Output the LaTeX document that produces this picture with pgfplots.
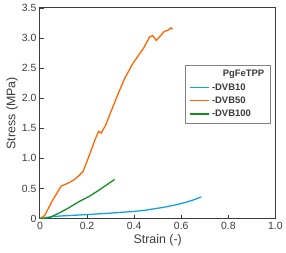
\documentclass[border=0pt]{standalone}
\usepackage{pgfplots}
\pgfplotsset{compat=1.18}
\usepackage{fontspec}
\setmainfont{Liberation Sans}
\definecolor{cblue}{RGB}{20,160,230}
\definecolor{corange}{RGB}{255,102,0}
\definecolor{cgreen}{RGB}{20,140,30}
\definecolor{axgray}{RGB}{60,60,60}
\begin{document}
\begin{tikzpicture}
\begin{axis}[
  scale only axis,
  width=236bp, height=211bp,
  xmin=0, xmax=1, ymin=0, ymax=3.5,
  xtick={0,0.2,0.4,0.6,0.8,1.0},
  xticklabels={0,0.2,0.4,0.6,0.8,1.0},
  ytick={0,0.5,1,1.5,2,2.5,3,3.5},
  yticklabels={0,0.5,1.0,1.5,2.0,2.5,3.0,3.5},
  tick align=inside,
  xtick pos=bottom, ytick pos=left,
  major tick length=4bp,
  axis line style={axgray, line width=1pt},
  every tick/.style={axgray, line width=0.9pt},
  tick label style={font=\fontsize{10.5}{12}\selectfont, text=axgray},
  label style={font=\fontsize{12.5}{13}\selectfont, text=axgray},
  xlabel={Strain (-)},
  ylabel={Stress (MPa)},
  xlabel style={yshift=2bp},
  ylabel style={yshift=-3bp},
  legend style={at={(0.98,0.73)}, anchor=north east, draw=gray, line width=1pt,
    font=\fontsize{9.5}{12}\selectfont\bfseries, text=axgray, row sep=1.2pt,
    inner xsep=4bp, inner ysep=3bp},
  legend cell align=left,
  legend image code/.code={\draw[#1, line width=1.3pt] (0cm,0cm) -- (19bp,0cm);},
  every axis plot/.append style={line width=1.3pt},
]
\addlegendimage{empty legend}
\addlegendentry{\hspace{0.38cm}PgFeTPP}
\addplot[cblue] coordinates {
(0,0) (0.03,0.02) (0.06,0.035) (0.1,0.045) (0.15,0.055) (0.2,0.066) (0.25,0.078) (0.3,0.09) (0.35,0.105) (0.4,0.118) (0.45,0.14) (0.49,0.165) (0.53,0.19) (0.58,0.23) (0.62,0.27) (0.66,0.32) (0.685,0.36)
};
\addlegendentry{-DVB10}
\addplot[corange] coordinates {
(0,0) (0.02,0.05) (0.04,0.2) (0.055,0.31) (0.075,0.44) (0.09,0.54) (0.112,0.575) (0.13,0.61) (0.147,0.65) (0.165,0.71) (0.183,0.78) (0.197,0.92) (0.218,1.14) (0.235,1.32) (0.249,1.45) (0.26,1.42) (0.28,1.56) (0.31,1.86) (0.335,2.1) (0.36,2.33) (0.395,2.58) (0.42,2.72) (0.44,2.83) (0.466,3.02) (0.479,3.04) (0.494,2.96) (0.51,3.03) (0.528,3.11) (0.543,3.13) (0.557,3.17) (0.563,3.15)
};
\addlegendentry{-DVB50}
\addplot[cgreen] coordinates {
(0,0) (0.02,0.003) (0.04,0.015) (0.07,0.07) (0.11,0.15) (0.14,0.22) (0.17,0.29) (0.21,0.37) (0.246,0.46) (0.28,0.55) (0.317,0.65)
};
\addlegendentry{-DVB100}
\end{axis}
\path (current axis.south west) ++(-40bp,-34bp) (current axis.north east) ++(10bp,8bp);
\end{tikzpicture}
\end{document}
